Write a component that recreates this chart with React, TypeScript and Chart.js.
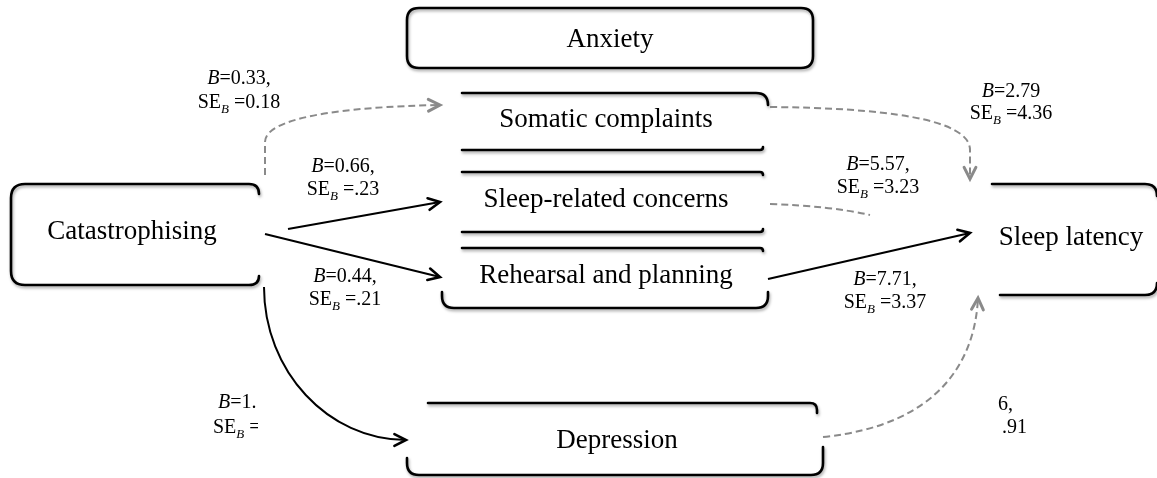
import React, { useEffect, useRef } from "react";
import { Chart, registerables } from "chart.js";

Chart.register(...registerables);

// ---------- data ----------
const NODE_LABELS = [
  "Catastrophising",
  "Anxiety",
  "Somatic complaints",
  "Sleep-related concerns",
  "Rehearsal and planning",
  "Depression",
  "Sleep latency",
];
const PATH_B = ["0.33,", "0.66,", "0.44,", "2.79", "5.57,", "7.71,"];
const PATH_SE = ["0.18", ".23", ".21", "4.36", "3.23", "3.37"];
// fragments of two coefficient labels that are partly hidden in the figure
const HIDDEN_LEFT_B = "1.";
const HIDDEN_RIGHT_B = "6,";
const HIDDEN_RIGHT_SE = ".91";

// ---------- layout (diagram units = pixels of the 1157x478 figure) ----------
const W = 1157;
const H = 478;
const NODE_TEXT_POS: [number, number][] = [
  [132, 239],
  [610, 47],
  [606, 127],
  [606, 207],
  [606, 283],
  [617, 448],
  [1071, 245],
];
const LABEL_POS: [number, number, number][] = [
  [239, 84, 108],
  [343, 172, 195],
  [345, 282, 305],
  [1011, 97, 119],
  [878, 170, 193],
  [885, 285, 308],
];

type Cmd = (string | number)[];

const BOX_PATHS: Cmd[][] = [
  // Catastrophising
  [["M", 259, 194], ["Q", 259, 184, 249, 184], ["L", 25, 184], ["Q", 11, 184, 11, 198], ["L", 11, 271], ["Q", 11, 285, 25, 285], ["L", 249, 285], ["Q", 259, 285, 259, 276]],
  // Anxiety
  [["M", 419, 8], ["L", 801, 8], ["Q", 813, 8, 813, 20], ["L", 813, 56], ["Q", 813, 68, 801, 68], ["L", 419, 68], ["Q", 407, 68, 407, 56], ["L", 407, 20], ["Q", 407, 8, 419, 8], ["Z"]],
  // Somatic complaints
  [["M", 462, 93], ["L", 756, 93], ["Q", 768, 93, 768, 105]],
  [["M", 462, 150], ["L", 760, 150], ["Q", 763, 150, 763, 147]],
  // Sleep-related concerns
  [["M", 462, 172], ["L", 760, 172], ["Q", 763, 172, 763, 175]],
  [["M", 462, 232], ["L", 760, 232], ["Q", 763, 232, 763, 229]],
  // Rehearsal and planning
  [["M", 462, 248], ["L", 760, 248], ["Q", 763, 248, 763, 251]],
  [["M", 442, 292], ["L", 442, 296], ["Q", 442, 308, 454, 308], ["L", 756, 308], ["Q", 768, 308, 768, 296], ["L", 768, 292]],
  // Depression
  [["M", 428, 403], ["L", 810, 403], ["Q", 817, 403, 817, 410], ["L", 817, 413]],
  [["M", 407, 458], ["L", 407, 463], ["Q", 407, 475, 419, 475], ["L", 811, 475], ["Q", 823, 475, 823, 463], ["L", 823, 447]],
  // Sleep latency
  [["M", 992, 184], ["L", 1145, 184], ["Q", 1157, 184, 1157, 196]],
  [["M", 1000, 295], ["L", 1145, 295], ["Q", 1157, 295, 1157, 283]],
];

const ARROWS: { dashed: boolean; head: boolean; cmds: Cmd[] }[] = [
  { dashed: true, head: true, cmds: [["M", 265, 175], ["L", 265, 142], ["C", 265, 118, 340, 107, 440, 105]] },
  { dashed: true, head: true, cmds: [["M", 770, 107], ["C", 880, 108, 970, 118, 970, 150], ["L", 970, 179]] },
  { dashed: true, head: false, cmds: [["M", 770, 204], ["Q", 830, 206, 870, 215]] },
  { dashed: false, head: true, cmds: [["M", 288, 229], ["L", 440, 202]] },
  { dashed: false, head: true, cmds: [["M", 265, 234], ["L", 440, 277]] },
  { dashed: false, head: true, cmds: [["M", 768, 279], ["L", 970, 233]] },
  { dashed: false, head: true, cmds: [["M", 264, 287], ["C", 264, 371, 328, 440, 406, 440]] },
  { dashed: true, head: true, cmds: [["M", 823, 437], ["C", 940, 425, 975, 360, 978, 298]] },
];

const SERIF = '"Liberation Serif", "Times New Roman", serif';
const GREY = "#8a8a8a";

type Part = { t: string; italic?: boolean; sub?: boolean };

function drawRich(ctx: CanvasRenderingContext2D, parts: Part[], x: number, y: number, align: "center" | "left") {
  const fontFor = (p: Part) => `${p.italic ? "italic " : ""}${p.sub ? 13 : 20}px ${SERIF}`;
  let w = 0;
  for (const p of parts) {
    ctx.font = fontFor(p);
    w += ctx.measureText(p.t).width;
  }
  let cx = align === "center" ? x - w / 2 : x;
  ctx.textAlign = "left";
  ctx.textBaseline = "alphabetic";
  for (const p of parts) {
    ctx.font = fontFor(p);
    ctx.fillText(p.t, cx, p.sub ? y + 5 : y);
    cx += ctx.measureText(p.t).width;
  }
}

const diagramPlugin = {
  id: "pathDiagram",
  beforeDraw(chart: any) {
    const ctx = chart.ctx as CanvasRenderingContext2D;
    ctx.save();
    ctx.fillStyle = "#ffffff";
    ctx.fillRect(0, 0, chart.width, chart.height);
    ctx.restore();
  },
  afterDatasetsDraw(chart: any) {
    const ctx = chart.ctx as CanvasRenderingContext2D;
    const sx = chart.scales.x;
    const sy = chart.scales.y;
    const X = (v: number) => sx.getPixelForValue(v);
    const Y = (v: number) => sy.getPixelForValue(v);

    const trace = (cmds: Cmd[]) => {
      ctx.beginPath();
      for (const c of cmds) {
        const n = c.slice(1) as number[];
        if (c[0] === "M") ctx.moveTo(X(n[0]), Y(n[1]));
        else if (c[0] === "L") ctx.lineTo(X(n[0]), Y(n[1]));
        else if (c[0] === "Q") ctx.quadraticCurveTo(X(n[0]), Y(n[1]), X(n[2]), Y(n[3]));
        else if (c[0] === "C") ctx.bezierCurveTo(X(n[0]), Y(n[1]), X(n[2]), Y(n[3]), X(n[4]), Y(n[5]));
        else if (c[0] === "Z") ctx.closePath();
      }
    };

    // boxes
    ctx.save();
    ctx.strokeStyle = "#000";
    ctx.lineWidth = 2.6;
    ctx.lineCap = "round";
    ctx.lineJoin = "round";
    ctx.shadowColor = "rgba(0,0,0,0.35)";
    ctx.shadowBlur = 3;
    ctx.shadowOffsetX = 1;
    ctx.shadowOffsetY = 2;
    for (const p of BOX_PATHS) {
      trace(p);
      ctx.stroke();
    }
    ctx.restore();

    // arrows
    for (const a of ARROWS) {
      ctx.save();
      const col = a.dashed ? GREY : "#000";
      ctx.strokeStyle = col;
      ctx.lineWidth = 2;
      ctx.setLineDash(a.dashed ? [7, 4] : []);
      trace(a.cmds);
      ctx.stroke();
      if (a.head) {
        const last = a.cmds[a.cmds.length - 1] as number[];
        const nums = last.slice(1) as number[];
        const tx = nums[nums.length - 2];
        const ty = nums[nums.length - 1];
        let fx: number, fy: number;
        if (nums.length >= 4) {
          fx = nums[nums.length - 4];
          fy = nums[nums.length - 3];
        } else {
          const prev = a.cmds[a.cmds.length - 2] as number[];
          const pn = prev.slice(1) as number[];
          fx = pn[pn.length - 2];
          fy = pn[pn.length - 1];
        }
        const ang = Math.atan2(Y(ty) - Y(fy), X(tx) - X(fx));
        const len = 13;
        const spread = 0.47;
        ctx.setLineDash([]);
        ctx.lineWidth = a.dashed ? 3 : 2.6;
        ctx.lineCap = "round";
        ctx.lineJoin = "miter";
        ctx.beginPath();
        ctx.moveTo(X(tx) - len * Math.cos(ang - spread), Y(ty) - len * Math.sin(ang - spread));
        ctx.lineTo(X(tx), Y(ty));
        ctx.lineTo(X(tx) - len * Math.cos(ang + spread), Y(ty) - len * Math.sin(ang + spread));
        ctx.stroke();
      }
      ctx.restore();
    }

    // node labels
    ctx.save();
    ctx.fillStyle = "#000";
    ctx.font = `27px ${SERIF}`;
    ctx.textAlign = "center";
    ctx.textBaseline = "alphabetic";
    NODE_LABELS.forEach((lab, i) => {
      const [x, y] = NODE_TEXT_POS[i];
      ctx.fillText(lab, X(x), Y(y));
    });
    ctx.restore();

    // coefficient labels
    ctx.save();
    ctx.fillStyle = "#000";
    PATH_B.forEach((b, i) => {
      const [x, y1, y2] = LABEL_POS[i];
      drawRich(ctx, [{ t: "B", italic: true }, { t: "=" + b }], X(x), Y(y1), "center");
      drawRich(ctx, [{ t: "SE" }, { t: "B", italic: true, sub: true }, { t: " =" + PATH_SE[i] }], X(x), Y(y2), "center");
    });
    // partly hidden label on the left (clipped)
    ctx.save();
    ctx.beginPath();
    ctx.rect(X(150), Y(380), X(258) - X(150), Y(450) - Y(380));
    ctx.clip();
    drawRich(ctx, [{ t: "B", italic: true }, { t: "=" + HIDDEN_LEFT_B }], X(218), Y(408), "left");
    drawRich(ctx, [{ t: "SE" }, { t: "B", italic: true, sub: true }, { t: " =" }], X(213), Y(433), "left");
    ctx.restore();
    // partly hidden label on the right
    drawRich(ctx, [{ t: HIDDEN_RIGHT_B }], X(998), Y(410), "left");
    drawRich(ctx, [{ t: HIDDEN_RIGHT_SE }], X(1002), Y(433), "left");
    ctx.restore();
  },
};

export default function App() {
  const ref = useRef<HTMLCanvasElement | null>(null);
  useEffect(() => {
    document.body.style.margin = "0";
    if (!ref.current) return;
    const chart = new Chart(ref.current, {
      type: "scatter",
      data: {
        datasets: [
          {
            label: "nodes",
            data: NODE_TEXT_POS.map(([x, y]) => ({ x, y })),
            pointRadius: 0,
            showLine: false,
          },
        ],
      },
      options: {
        animation: false,
        responsive: false,
        events: [],
        layout: { padding: 0 },
        plugins: { legend: { display: false }, tooltip: { enabled: false } },
        scales: {
          x: { type: "linear", min: 0, max: W, display: false },
          y: { type: "linear", min: 0, max: H, reverse: true, display: false },
        },
      },
      plugins: [diagramPlugin],
    } as any);
    return () => chart.destroy();
  }, []);
  return (
    <div style={{ position: "absolute", left: 0, top: 0, width: W, height: H, background: "#fff" }}>
      <canvas ref={ref} width={W} height={H} style={{ display: "block", width: W, height: H }} />
    </div>
  );
}
